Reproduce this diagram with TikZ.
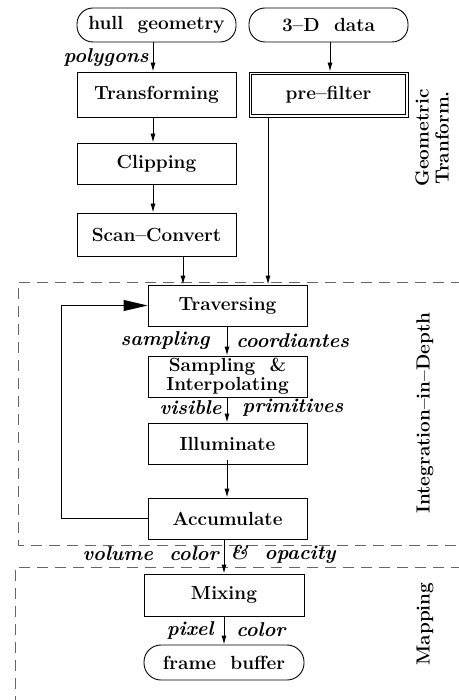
\documentclass[tikz,border=0pt]{standalone}
\usepackage{fontspec}
\usetikzlibrary{arrows.meta,calc}
\newcommand\boxfont{\fontsize{19}{21}\selectfont\bfseries}
\newcommand\lblfont{\fontsize{20}{22}\selectfont\bfseries\itshape}
\begin{document}
\begin{tikzpicture}[x=1pt,y=-1pt,
  font=\boxfont,
  line width=0.9pt,
  box/.style={draw,rectangle,minimum width=159pt,minimum height=41pt,inner sep=0pt,align=center},
  term/.style={draw,rectangle,rounded corners=16pt,minimum width=159pt,minimum height=34pt,inner sep=0pt},
  arr/.style={-{Latex[length=9pt,width=5pt]}},
  bigarr/.style={-{Triangle[length=24pt,width=11pt]}},
  lbl/.style={font=\lblfont,inner sep=0pt},
  region/.style={draw=black!60,line width=1pt,dash pattern=on 11pt off 7pt},
  side/.style={rotate=90,align=center,font=\fontsize{19}{20}\selectfont\bfseries}]
\useasboundingbox (0,0) rectangle (458,700);

% dashed stage frames
\draw[region] (480,282) -- (18,282) -- (18,545) -- (480,545);
\draw[region] (480,567) -- (15,567) -- (15,720);

% geometric transformation
\node[term] (hull) at (156.5,25) {hull \ geometry};
\node[term] (data) at (328.5,25) {3--D \ data};
\node[box,minimum height=45pt] (trans) at (156.5,94.5) {Transforming};
\node[box,minimum height=45pt] (pref) at (328.5,94.5) {pre--filter};
\draw[line width=0.7pt] ([shift={(3,3)}]pref.north west) rectangle ([shift={(-3,-3)}]pref.south east);
\node[box] (clip) at (156.5,163.5) {Clipping};
\node[box,minimum height=43pt] (scan) at (156.5,234.5) {Scan--Convert};

% integration in depth
\node[box,font=\fontsize{19}{19}\selectfont\bfseries] (samp) at (227.5,376.5) {Sampling \ \&\\Interpolating};
\node[box] (trav) at (227.5,305.5) {Traversing};
\node[box] (illu) at (227.5,443.5) {Illuminate};
\node[box] (accu) at (227.5,518.5) {Accumulate};

% mapping
\node[box,minimum width=160pt,minimum height=42pt] (mix) at (224,595) {Mixing};
\node[term,minimum width=160pt,minimum height=35pt,rounded corners=17pt] (fb) at (224,662.5) {frame \ buffer};

% connector columns
\coordinate (c1) at (153,0);
\coordinate (c2) at (330,0);
\coordinate (c3) at (183,0);
\coordinate (c4) at (268,0);
\coordinate (c5) at (227,0);
\coordinate (c6) at (224,0);

\draw[arr] (hull.south -| c1) -- (trans.north -| c1);
\draw[arr] (data.south -| c2) -- (pref.north -| c2);
\draw[arr] (trans.south -| c1) -- (clip.north -| c1);
\draw[arr] (clip.south -| c1) -- (scan.north -| c1);
\draw[arr] (scan.south -| c3) -- (trav.north -| c3);
\draw[arr] (pref.south -| c4) -- (trav.north -| c4);
\draw[arr] (trav.south -| c5) -- (samp.north -| c5);
\draw[arr] (samp.south -| c5) -- (illu.north -| c5);
\draw[arr] ([yshift=4pt]illu.south -| c5) -- (accu.north -| c5);
\draw[arr] (accu.south -| c6) -- (mix.north -| c6);
\draw[arr] (mix.south -| c6) -- (fb.north -| c6);
\draw[bigarr] (accu.west) -- ++(-86,0) |- (trav.west);

% connector labels
\node[lbl,anchor=east] (l1) at (149,58) {polygons};
\node[lbl,anchor=east] (l2) at (210,341) {sampling};
\node[lbl,anchor=west] (l3) at (236,341) {coordiantes};
\node[lbl,anchor=east] (l4) at (222,408) {visible};
\node[lbl,anchor=west] (l5) at (242,408) {primitives};
\node[lbl,anchor=east] (l6) at (219,554) {volume \ color};
\node[lbl,anchor=west] (l7) at (230,554) {\& \ opacity};
\node[lbl,anchor=east] (l8) at (214,630) {pixel};
\node[lbl,anchor=west] (l9) at (236,630) {color};

% stage captions
\node[side] (s1) at (432,138) {Geometric\\Tranform.};
\node[side] (s2) at (425,413) {Integration--in--Depth};
\node[side] (s3) at (425,624) {Mapping};
\end{tikzpicture}
\end{document}
